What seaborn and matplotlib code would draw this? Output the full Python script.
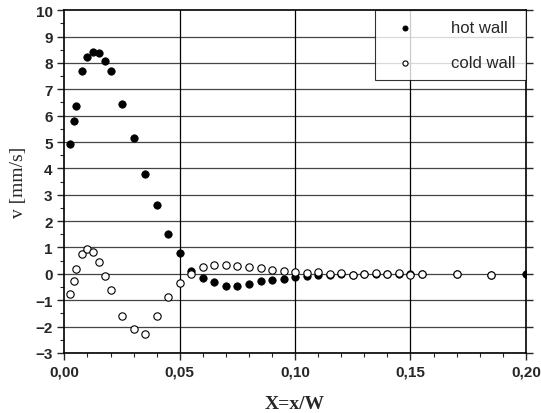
import matplotlib
matplotlib.use('Agg')
import matplotlib.pyplot as plt
import seaborn as sns
import pandas as pd
from matplotlib.ticker import MultipleLocator, FixedLocator

# Dados
x_quente = [0.0025, 0.004, 0.005, 0.0075, 0.010, 0.0125, 0.015, 0.0175, 0.020, 0.025,
            0.030, 0.035, 0.040, 0.045, 0.050, 0.055, 0.060, 0.065, 0.070, 0.075,
            0.080, 0.085, 0.090, 0.095, 0.100, 0.105, 0.110, 0.115, 0.120, 0.125,
            0.130, 0.135, 0.140, 0.145, 0.150, 0.155, 0.170, 0.185, 0.200]
v_quente = [4.93, 5.80, 6.37, 7.68, 8.22, 8.43, 8.39, 8.07, 7.68, 6.46,
            5.16, 3.79, 2.61, 1.51, 0.78, 0.11, -0.15, -0.30, -0.45, -0.45,
            -0.37, -0.28, -0.23, -0.21, -0.11, -0.08, -0.05, -0.03, -0.02, -0.03,
            -0.02, -0.01, -0.02, -0.01, -0.02, -0.01, -0.02, -0.05, 0.0]

x_fria = [0.0025, 0.004, 0.005, 0.0075, 0.010, 0.0125, 0.015, 0.0175, 0.020, 0.025,
          0.030, 0.035, 0.040, 0.045, 0.050, 0.055, 0.060, 0.065, 0.070, 0.075,
          0.080, 0.085, 0.090, 0.095, 0.100, 0.105, 0.110, 0.115, 0.120, 0.125,
          0.130, 0.135, 0.140, 0.145, 0.150, 0.155, 0.170, 0.185]
v_fria = [-0.78, -0.26, 0.18, 0.74, 0.94, 0.83, 0.45, -0.08, -0.63, -1.61,
          -2.09, -2.28, -1.59, -0.87, -0.35, 0.0, 0.25, 0.32, 0.35, 0.30,
          0.25, 0.21, 0.13, 0.09, 0.07, 0.05, 0.07, 0.0, 0.02, -0.04,
          0.0, 0.02, 0.0, 0.04, -0.03, 0.0, -0.01, -0.03]

ticks_x = [0.00, 0.05, 0.10, 0.15, 0.20]
rotulos_x = ['0,00', '0,05', '0,10', '0,15', '0,20']
ticks_y = list(range(-3, 11))

quente = pd.DataFrame({'x': x_quente, 'v': v_quente})
fria = pd.DataFrame({'x': x_fria, 'v': v_fria})

sns.set_style('white')
plt.rcParams['font.family'] = ['Liberation Sans', 'DejaVu Sans']

fig = plt.figure(figsize=(5.41, 4.14), dpi=100)
ax = fig.add_axes([0.119, 0.145, 0.853, 0.828])

# grade
for y in ticks_y[:-1]:
    ax.axhline(y, color='#444444', lw=0.9, zorder=1)
for xv in ticks_x[1:-1]:
    ax.axvline(xv, color='black', lw=0.9, zorder=1)

sns.scatterplot(data=quente, x='x', y='v', ax=ax, color='black', marker='o',
                s=28, edgecolor='black', linewidth=0.6, label='hot wall', zorder=3)
sns.scatterplot(data=fria, x='x', y='v', ax=ax, color='white', marker='o',
                s=28, edgecolor='black', linewidth=0.8, label='cold wall', zorder=4)

ax.set_xlim(0, 0.20)
ax.set_ylim(-3, 10)
ax.xaxis.set_major_locator(FixedLocator(ticks_x))
ax.set_xticklabels(rotulos_x)
ax.yaxis.set_major_locator(FixedLocator(ticks_y))
ax.xaxis.set_minor_locator(MultipleLocator(0.01))
ax.yaxis.set_minor_locator(MultipleLocator(0.5))
ax.tick_params(which='major', direction='out', length=5, width=1,
               labelsize=11, bottom=True, left=True)
ax.tick_params(which='minor', direction='out', length=3, width=0.8,
               bottom=True, left=True)
ax.tick_params(axis='y', which='major', right=True)
for lab in ax.get_xticklabels() + ax.get_yticklabels():
    lab.set_fontweight('bold')

for s in ax.spines.values():
    s.set_color('black')
    s.set_linewidth(1.2)

ax.set_xlabel('X=x/W', fontsize=14, fontweight='bold',
              family=['Liberation Serif', 'DejaVu Serif'], labelpad=12)
ax.set_ylabel('v [mm/s]', fontsize=14, family=['Liberation Serif', 'DejaVu Serif'],
              labelpad=6)

leg = ax.legend(loc='upper right', borderaxespad=0, frameon=True, fancybox=False,
                fontsize=12, labelspacing=1.2, markerscale=0.7, handletextpad=1.6,
                borderpad=0.6, handlelength=2.4)
leg.get_frame().set_edgecolor('black')
leg.get_frame().set_linewidth(0.8)

plt.savefig('out.png', dpi=100)
